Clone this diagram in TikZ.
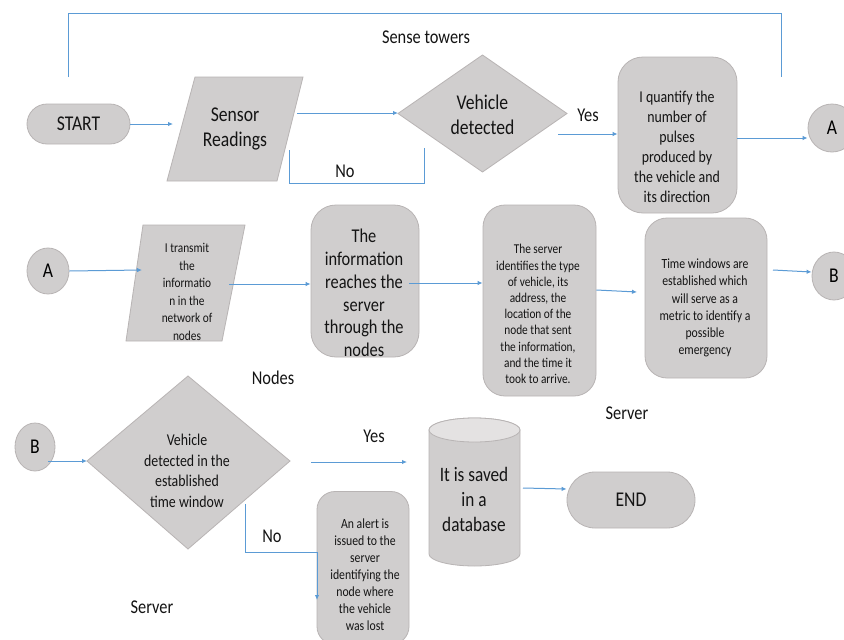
\documentclass[tikz,border=0pt]{standalone}
\usepackage{fontspec}
\setmainfont{Carlito}[FakeStretch=0.84]
\usetikzlibrary{arrows.meta,shapes.geometric}
\definecolor{boxfill}{HTML}{D0CECE}
\definecolor{boxline}{HTML}{B8B4B4}
\definecolor{topfill}{HTML}{E4E2E2}
\definecolor{arrblue}{HTML}{5B9BD5}
\newcommand{\fs}[2]{\fontsize{#1}{#2}\selectfont}
\tikzset{
  box/.style={draw=boxline, fill=boxfill, line width=0.8pt, inner sep=0pt, rectangle},
  shapefill/.style={draw=boxline, fill=boxfill, line width=0.8pt},
  circ/.style={draw=boxline, fill=boxfill, line width=0.8pt, ellipse, inner sep=0pt, font=\fs{21}{25}},
  txt/.style={align=center, inner sep=0pt, text=black!92},
  lbl/.style={inner sep=0pt, text=black!92, font=\fs{19.5}{23}},
  arr/.style={draw=arrblue, line width=1pt, -{Latex[length=5pt,width=4.5pt]}},
  ln/.style={draw=arrblue, line width=1pt},
}
\begin{document}
\begin{tikzpicture}[x=1pt,y=-1pt]
\useasboundingbox (0,0) rectangle (844,640);
\fill[white] (0,0) rectangle (844,640);

% ---------- Row 1 ----------
\coordinate (brL) at (68,77);
\coordinate (brR) at (781,77);
\draw[ln] (brL) -- (68,13) -- (781,13) -- (brR);
\node[lbl] (sense) at (426,37) {Sense towers};

\node[box, rounded corners=20pt, minimum width=103pt, minimum height=40pt] (start) at (78.5,124) {};
\node[txt, font=\fs{21}{25}] (startT) at (start) {START};

\draw[shapefill] (195,77) -- (303,77) -- (277,181) -- (167,181) -- cycle;
\node[txt, font=\fs{21}{25}] (sensor) at (235,129) {Sensor\\Readings};
\coordinate (sensorL) at (173,124);

\draw[shapefill] (482.5,55) -- (567,113.5) -- (482.5,172) -- (398,113.5) -- cycle;
\node[txt, font=\fs{21}{25}] (det) at (482.5,115) {Vehicle\\detected};
\coordinate (detL) at (398,113);

\node[box, rounded corners=25pt, minimum width=119pt, minimum height=156pt] (quant) at (677.5,135) {};
\node[txt, font=\fs{16.5}{20}] (quantT) at (677,147) {I quantify the\\number of\\pulses\\produced by\\the vehicle and\\its direction};

\node[circ, minimum width=48pt, minimum height=48pt] (A1) at (832,128) {A};

\draw[arr] (start.east) -- (sensorL);
\draw[arr] (297,113) -- (detL);
\coordinate (noA) at (289,150);
\coordinate (noB) at (424,148);
\draw[ln] (noA) -- (289,183) -- (424,183) -- (noB);
\node[lbl] (no1) at (345,171) {No};
\node[lbl] (yes1) at (588,115) {Yes};
\draw[arr] (558,134) -- (quant.west |- 0,134);
\draw[arr] (quant.east |- 0,138) -- (A1.west |- 0,138);

% ---------- Row 2 ----------
\node[circ, minimum width=42pt, minimum height=46pt] (A2) at (48,271) {A};

\draw[shapefill] (143,225) -- (245,225) -- (222,341) -- (126,341) -- cycle;
\node[txt, font=\fs{13.5}{17.5}] (trans) at (187,292) {I transmit\\the\\informatio\\n in the\\network of\\nodes};

\node[box, rounded corners=25pt, minimum width=108pt, minimum height=152pt] (info) at (365,281) {};
\node[txt, font=\fs{19.5}{22.7}] (infoT) at (364,293) {The\\information\\reaches the\\server\\through the\\nodes};

\node[box, rounded corners=22pt, minimum width=113pt, minimum height=191pt] (serv) at (539.5,300.5) {};
\node[txt, font=\fs{13.5}{16.2}] (servT) at (538,314) {The server\\identifies the type\\of vehicle, its\\address, the\\location of the\\node that sent\\the information,\\and the time it\\took to arrive.};

\node[box, rounded corners=22pt, minimum width=122pt, minimum height=160pt] (time) at (706,298) {};
\node[txt, font=\fs{14}{17.3}] (timeT) at (705,308) {Time windows are\\established which\\will serve as a\\metric to identify a\\possible\\emergency};

\node[circ, minimum width=44pt, minimum height=48pt] (B1) at (834,276) {B};

\draw[arr] (A2.east) -- (142,270);
\draw[arr] (229,284) -- (info.west |- 0,284);
\draw[arr] (409,283) -- (serv.west |- 0,283);
\draw[arr] (serv.east |- 0,290) -- (637,292);
\draw[arr] (773,270) -- (B1.west |- 0,272);

\node[lbl] (nodesL) at (273,378) {Nodes};
\node[lbl] (servL1) at (627,413) {Server};

% ---------- Row 3 ----------
\node[circ, minimum width=40pt, minimum height=48pt] (B2) at (35,447) {B};

\draw[shapefill] (188,376) -- (290,461) -- (188,549) -- (87,461) -- cycle;
\coordinate (d2L) at (87,461);
\node[txt, font=\fs{16.5}{20.5}] (d2) at (187,471) {Vehicle\\detected in the\\established\\time window};

\draw[arr] (48,461) -- (d2L);

\node[box, rounded corners=18pt, minimum width=92pt, minimum height=153pt] (alert) at (363,568) {};
\node[txt, font=\fs{14}{17}] (alertT) at (365,575) {An alert is\\issued to the\\server\\identifying the\\node where\\the vehicle\\was lost};

% cylinder
\path[shapefill] (429,430) -- (429,554) arc[start angle=180, end angle=360, x radius=45.5pt, y radius=12pt] -- (520,430) arc[start angle=0, end angle=180, x radius=45.5pt, y radius=12pt] -- cycle;
\draw[draw=boxline, fill=topfill, line width=0.8pt] (474.5,430) ellipse [x radius=45.5pt, y radius=12pt];
\node[txt, font=\fs{20.5}{25}] (db) at (474,499) {It is saved\\in a\\database};

\node[box, rounded corners=28pt, minimum width=128pt, minimum height=56pt] (endn) at (631,500) {};
\node[txt, font=\fs{21}{25}] (endT) at (endn) {END};

\draw[arr] (311,462) -- (407,462);
\node[lbl] (yes2) at (374,436) {Yes};
\coordinate (n2) at (245,504);
\draw[arr] (n2) -- (245,552) -- (317,552) -- (317,600);
\node[lbl] (no2) at (272,536) {No};
\draw[arr] (523,488) -- (endn.west |- 0,489);
\node[lbl] (servL2) at (152,607) {Server};
\end{tikzpicture}
\end{document}
